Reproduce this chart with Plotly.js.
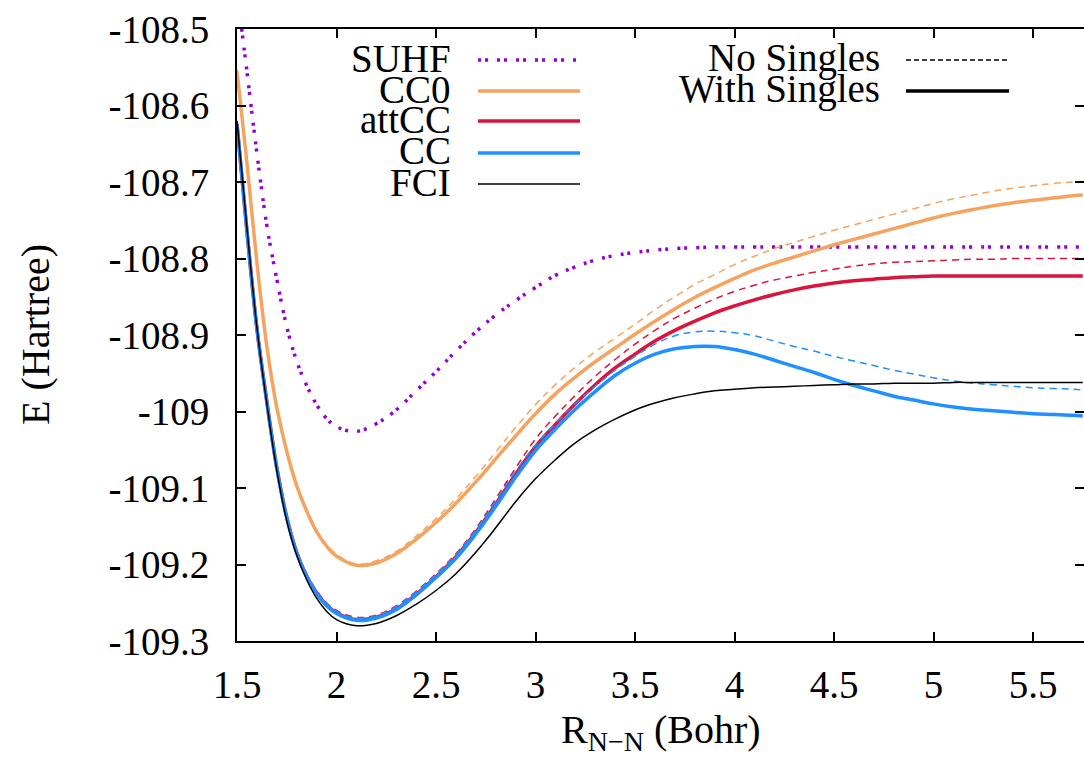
<!DOCTYPE html>
<html>
<head>
<meta charset="utf-8">
<script src="https://cdn.plot.ly/plotly-3.0.1.min.js"></script>
</head>
<body style="margin:0;background:#fff">
<div id="chart"></div>
<script>
// ---- data ----
const R = [1.5,1.55,1.6,1.65,1.7,1.75,1.8,1.85,1.9,1.95,2.0,
           2.1,2.2,2.3,2.4,2.5,2.6,2.7,2.8,2.9,3.0,3.1,3.2,3.3,3.4,3.5,3.6,3.7,3.8,3.9,4.0,
           4.1,4.2,4.3,4.4,4.5,4.6,4.7,4.8,4.9,5.0,5.1,5.2,5.3,5.4,5.5,5.6,5.7,5.75];

const SUHF = [-108.450,-108.556,-108.662,-108.757,-108.827,-108.889,-108.934,-108.966,-108.991,-109.009,-109.020,
  -109.026,-109.016,-108.998,-108.973,-108.948,-108.921,-108.896,-108.874,-108.855,-108.838,-108.822,-108.811,-108.802,-108.796,-108.792,-108.789,-108.787,-108.786,-108.785,-108.785,
  -108.785,-108.785,-108.785,-108.785,-108.785,-108.785,-108.785,-108.785,-108.785,-108.785,-108.785,-108.785,-108.785,-108.785,-108.785,-108.785,-108.785,-108.785];

const CC0_with = [-108.555,-108.675,-108.805,-108.915,-108.995,-109.052,-109.097,-109.130,-109.157,-109.176,-109.189,
  -109.201,-109.198,-109.186,-109.167,-109.145,-109.120,-109.092,-109.062,-109.032,-109.003,-108.977,-108.955,-108.935,-108.917,-108.899,-108.882,-108.866,-108.851,-108.838,-108.826,
  -108.815,-108.806,-108.798,-108.790,-108.782,-108.775,-108.768,-108.761,-108.754,-108.747,-108.741,-108.736,-108.731,-108.727,-108.724,-108.721,-108.718,-108.717];
const CC0_no = [-108.553,-108.673,-108.803,-108.913,-108.993,-109.050,-109.095,-109.128,-109.155,-109.174,-109.187,
  -109.199,-109.195,-109.183,-109.163,-109.140,-109.114,-109.085,-109.053,-109.021,-108.991,-108.965,-108.942,-108.922,-108.904,-108.886,-108.867,-108.850,-108.834,-108.821,-108.808,
  -108.797,-108.787,-108.779,-108.771,-108.763,-108.756,-108.749,-108.742,-108.735,-108.728,-108.722,-108.717,-108.712,-108.708,-108.705,-108.702,-108.700,-108.699];

const attCC_with = [-108.624,-108.764,-108.891,-108.987,-109.073,-109.138,-109.184,-109.215,-109.237,-109.253,-109.263,
  -109.272,-109.269,-109.258,-109.239,-109.216,-109.190,-109.158,-109.121,-109.082,-109.046,-109.017,-108.990,-108.965,-108.943,-108.925,-108.908,-108.894,-108.882,-108.871,-108.862,
  -108.854,-108.847,-108.841,-108.836,-108.832,-108.829,-108.827,-108.825,-108.824,-108.823,-108.823,-108.823,-108.823,-108.823,-108.823,-108.823,-108.823,-108.823];
const attCC_no = [-108.622,-108.762,-108.889,-108.984,-109.070,-109.135,-109.181,-109.212,-109.234,-109.250,-109.260,
  -109.269,-109.266,-109.254,-109.235,-109.212,-109.186,-109.153,-109.114,-109.074,-109.036,-109.006,-108.979,-108.954,-108.932,-108.912,-108.894,-108.878,-108.865,-108.853,-108.843,
  -108.835,-108.828,-108.823,-108.818,-108.814,-108.810,-108.807,-108.805,-108.804,-108.803,-108.802,-108.801,-108.801,-108.800,-108.800,-108.800,-108.800,-108.800];

const CC_with = [-108.625,-108.765,-108.892,-108.988,-109.074,-109.139,-109.185,-109.216,-109.238,-109.254,-109.264,
  -109.273,-109.270,-109.259,-109.240,-109.217,-109.192,-109.160,-109.124,-109.086,-109.051,-109.023,-108.997,-108.974,-108.953,-108.937,-108.925,-108.918,-108.915,-108.915,-108.919,
  -108.925,-108.933,-108.941,-108.949,-108.958,-108.966,-108.973,-108.980,-108.985,-108.990,-108.994,-108.997,-108.999,-109.001,-109.003,-109.004,-109.005,-109.006];
const CC_no = [-108.623,-108.763,-108.890,-108.985,-109.071,-109.136,-109.182,-109.213,-109.235,-109.251,-109.261,
  -109.270,-109.267,-109.255,-109.236,-109.213,-109.187,-109.155,-109.117,-109.078,-109.044,-109.016,-108.990,-108.967,-108.946,-108.928,-108.912,-108.901,-108.896,-108.895,-108.897,
  -108.901,-108.908,-108.915,-108.921,-108.928,-108.934,-108.940,-108.946,-108.951,-108.956,-108.960,-108.963,-108.965,-108.967,-108.969,-108.970,-108.971,-108.972];

const FCI = [-108.620,-108.760,-108.890,-108.990,-109.077,-109.143,-109.188,-109.220,-109.244,-109.261,-109.272,
  -109.280,-109.277,-109.267,-109.252,-109.234,-109.212,-109.184,-109.152,-109.118,-109.088,-109.063,-109.041,-109.024,-109.010,-108.998,-108.989,-108.982,-108.977,-108.973,-108.971,
  -108.969,-108.968,-108.967,-108.966,-108.965,-108.964,-108.964,-108.963,-108.963,-108.963,-108.962,-108.962,-108.962,-108.962,-108.962,-108.962,-108.962,-108.962];

const xTickVals = [1.5,2,2.5,3,3.5,4,4.5,5,5.5];
const xTickText = ['1.5','2','2.5','3','3.5','4','4.5','5','5.5'];
const yTickVals = [-108.5,-108.6,-108.7,-108.8,-108.9,-109,-109.1,-109.2,-109.3];
const yTickText = ['-108.5','-108.6','-108.7','-108.8','-108.9','-109','-109.1','-109.2','-109.3'];

const methodLabels = ['SUHF','CC0','attCC','CC','FCI'];
const singlesLabels = ['No Singles','With Singles'];
const xTitle = 'R<sub>N\u2212N</sub> (Bohr)';
const yTitle = 'E (Hartree)';

// ---- styles ----
const C = {suhf:'#9400D3', cc0:'#F4A460', att:'#DC143C', cc:'#1E90FF', fci:'#000000'};
const DOT = '3px,4px,3px,9px';
const DASH = '7px,5px';
const FONT = 'Liberation Serif';
const FS = 39;

function tr(y, color, width, dash){
  return {x:R, y:y, type:'scatter', mode:'lines', showlegend:false, hoverinfo:'skip',
          line:{color:color, width:width, dash:dash, shape:'spline', smoothing:1.1}};
}

const data = [
  tr(SUHF, C.suhf, 3.5, DOT),
  tr(CC0_with, C.cc0, 3.5, 'solid'),
  tr(CC0_no, C.cc0, 1.5, DASH),
  tr(attCC_with, C.att, 3.5, 'solid'),
  tr(attCC_no, C.att, 1.5, DASH),
  tr(CC_with, C.cc, 3.5, 'solid'),
  tr(CC_no, C.cc, 1.5, DASH),
  tr(FCI, C.fci, 1.5, 'solid')
];

// plot area in pixels: left 237, right 1084, top 29, bottom 641
const L=237, Rt=1084, T=29, B=641;
const px = v => (v - L) / (Rt - L);
const py = v => (B - v) / (B - T);

const legendRows = [60, 91, 121, 153, 184];
const legendStyles = [
  {color:C.suhf, width:3.5, dash:DOT},
  {color:C.cc0, width:3.5, dash:'solid'},
  {color:C.att, width:3.5, dash:'solid'},
  {color:C.cc, width:3.5, dash:'solid'},
  {color:C.fci, width:1.5, dash:'solid'}
];
const singlesRows = [60, 91];
const singlesStyles = [
  {color:'#000', width:1.3, dash:'5px,3px'},
  {color:'#000', width:3.5, dash:'solid'}
];

const annotations = [];
const shapes = [];
methodLabels.forEach((t,i)=>{
  annotations.push({xref:'paper', yref:'paper', x:px(453), y:py(legendRows[i]-2), xanchor:'right', yanchor:'middle',
    text:t, showarrow:false, font:{family:FONT, size:FS, color:'#000'}});
  shapes.push({type:'line', xref:'paper', yref:'paper', x0:px(478), x1:px(580), y0:py(legendRows[i]), y1:py(legendRows[i]), line:legendStyles[i]});
});
singlesLabels.forEach((t,i)=>{
  annotations.push({xref:'paper', yref:'paper', x:px(882), y:py(singlesRows[i]-2), xanchor:'right', yanchor:'middle',
    text:t, showarrow:false, font:{family:FONT, size:FS, color:'#000'}});
  shapes.push({type:'line', xref:'paper', yref:'paper', x0:px(906), x1:px(1009), y0:py(singlesRows[i]), y1:py(singlesRows[i]), line:singlesStyles[i]});
});
annotations.push({xref:'paper', yref:'paper', x:0.5, y:py(732), xanchor:'center', yanchor:'middle',
  text:xTitle, showarrow:false, font:{family:FONT, size:40, color:'#000'}});
annotations.push({xref:'paper', yref:'paper', x:px(35), y:0.5, xanchor:'center', yanchor:'middle', textangle:-90,
  text:yTitle, showarrow:false, font:{family:FONT, size:40, color:'#000'}});

const layout = {
  width:1084, height:759,
  margin:{l:L, r:1084-Rt, t:T, b:759-B, pad:0},
  paper_bgcolor:'#fff', plot_bgcolor:'#fff',
  showlegend:false,
  xaxis:{range:[1.5, 1.5 + (Rt-L)/199], tickvals:xTickVals, ticktext:xTickText, ticks:'inside', ticklen:9, tickwidth:1.5,
         tickcolor:'#000', showline:true, linecolor:'#000', linewidth:2, mirror:'ticks', showgrid:false, zeroline:false,
         ticklabelstandoff:8, tickfont:{family:FONT, size:FS, color:'#000'}},
  yaxis:{range:[-109.3,-108.5], tickvals:yTickVals, ticktext:yTickText, ticks:'inside', ticklen:9, tickwidth:1.5,
         tickcolor:'#000', showline:true, linecolor:'#000', linewidth:2, mirror:'ticks', showgrid:false, zeroline:false,
         ticklabelstandoff:18, tickfont:{family:FONT, size:FS, color:'#000'}},
  annotations:annotations,
  shapes:shapes
};

function forceSerif(){
  document.querySelectorAll('#chart svg text').forEach(t=>{
    t.setAttribute('font-family', 'Liberation Serif, Times New Roman, serif');
    t.style.setProperty('font-family', "'Liberation Serif', 'Times New Roman', serif", 'important');
  });
}

Plotly.newPlot('chart', data, layout, {displayModeBar:false}).then(forceSerif);
forceSerif();
</script>
</body>
</html>
